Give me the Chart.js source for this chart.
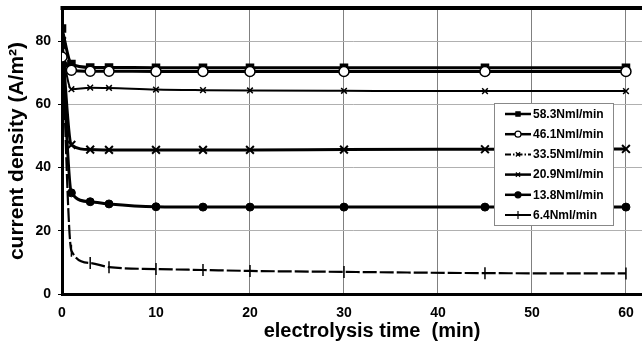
<!DOCTYPE html>
<html>
<head>
<meta charset="utf-8">
<script src="https://cdn.jsdelivr.net/npm/chart.js@4/dist/chart.umd.min.js"></script>
<style>
html,body{margin:0;padding:0;background:#fff;overflow:hidden;}
#wrap{width:642px;height:352px;position:relative;overflow:hidden;}
</style>
</head>
<body>
<div id="wrap"><canvas id="c" width="650" height="352"></canvas></div>
<script>
const times = [0, 1, 3, 5, 10, 15, 20, 30, 45, 60];
const seriesLabels = ["58.3Nml/min", "46.1Nml/min", "33.5Nml/min", "20.9Nml/min", "13.8Nml/min", "6.4Nml/min"];
const flow583 = [84, 72.8, 71.7, 71.7, 71.6, 71.6, 71.6, 71.6, 71.6, 71.6];
const flow461 = [75, 70.8, 70.5, 70.5, 70.4, 70.4, 70.4, 70.4, 70.4, 70.4];
const flow335 = [77, 64.8, 65.3, 65.2, 64.7, 64.5, 64.4, 64.3, 64.2, 64.2];
const flow209 = [80, 47.2, 45.7, 45.6, 45.6, 45.6, 45.6, 45.7, 45.8, 45.9];
const flow138 = [79, 32, 29.2, 28.5, 27.6, 27.5, 27.5, 27.5, 27.5, 27.5];
const flow64  = [81, 13.7, 9.8, 8.5, 7.9, 7.6, 7.3, 7.0, 6.6, 6.5];
const xTicks = [0, 10, 20, 30, 40, 50, 60];
const yTicks = [0, 20, 40, 60, 80];
const xTitle = 'electrolysis time  (min)';
const yTitle = 'current density (A/m²)';

const toXY = arr => arr.map((v, i) => ({x: times[i], y: v}));

const FONT = '"Liberation Sans", Arial, sans-serif';

const styles = [
  {pointStyle:'rect', radius:5, bg:'#000', bw:1.5, lw:3, dash:[], rot:0, legDash:[]},
  {pointStyle:'circle', radius:5, bg:'#fff', bw:1.5, lw:3, dash:[], rot:0, legDash:[]},
  {pointStyle:'crossRot', radius:4, bg:'#fff', bw:1.5, lw:2, dash:[], rot:0, legDash:[6,2,1.5,2]},
  {pointStyle:'crossRot', radius:5.5, bg:'#000', bw:2, lw:3, dash:[], rot:0, legDash:[]},
  {pointStyle:'circle', radius:4, bg:'#000', bw:1, lw:3, dash:[], rot:0, legDash:[]},
  {pointStyle:'line', radius:6, bg:'#000', bw:1.5, lw:2.2, dash:[14,3], rot:90, legDash:[]}
];
const values = [flow583, flow461, flow335, flow209, flow138, flow64];
const drawOrder = [2, 1, 3, 4, 5, 6];

const datasets = values.map((arr, i) => ({
  label: seriesLabels[i],
  data: toXY(arr),
  borderColor: '#000',
  backgroundColor: styles[i].bg,
  borderWidth: styles[i].lw,
  borderDash: styles[i].dash,
  pointStyle: styles[i].pointStyle,
  pointRadius: styles[i].radius,
  pointRotation: styles[i].rot,
  pointBorderWidth: styles[i].bw,
  pointBorderColor: '#000',
  pointBackgroundColor: styles[i].bg,
  cubicInterpolationMode: 'monotone',
  order: drawOrder[i],
  fill: false
}));

const frameAndLegend = {
  id: 'frameAndLegend',
  afterDraw(chart) {
    const ctx = chart.ctx;
    const ca = chart.chartArea;
    ctx.save();
    ctx.strokeStyle = '#000';
    ctx.lineWidth = 4;
    ctx.beginPath();
    ctx.moveTo(ca.left - 1.5, ca.top);
    ctx.lineTo(ca.right, ca.top);
    ctx.stroke();

    // x axis title (centred under the full, wider original plot)
    ctx.fillStyle = '#000';
    ctx.font = 'bold 20px ' + FONT;
    ctx.textAlign = 'center';
    ctx.textBaseline = 'middle';
    ctx.fillText(xTitle, 372, 331);
    ctx.textAlign = 'left';

    const bx = 494, by = 103, bw = 119, bh = 122;
    ctx.fillStyle = '#fff';
    ctx.fillRect(bx, by, bw, bh);
    ctx.strokeStyle = '#888';
    ctx.lineWidth = 1;
    ctx.strokeRect(bx + 0.5, by + 0.5, bw, bh);
    ctx.font = 'bold 12px ' + FONT;
    ctx.textBaseline = 'middle';
    chart.data.datasets.forEach((ds, i) => {
      const y = 114 + i * 20.2;
      ctx.strokeStyle = '#000';
      ctx.setLineDash(styles[i].legDash);
      ctx.lineWidth = (i === 2 || i === 5) ? 2 : 2.5;
      ctx.beginPath();
      ctx.moveTo(505, y);
      ctx.lineTo(531, y);
      ctx.stroke();
      ctx.setLineDash([]);
      ctx.fillStyle = ds.pointBackgroundColor;
      ctx.strokeStyle = '#000';
      ctx.lineWidth = 1.2;
      Chart.helpers.drawPoint(ctx, {
        pointStyle: ds.pointStyle,
        rotation: ds.pointRotation,
        radius: i === 5 ? 4 : 3,
        borderWidth: 1.2
      }, 518, y);
      ctx.fillStyle = '#000';
      ctx.fillText(ds.label, 533, y + 0.5);
    });
    ctx.restore();
  }
};

new Chart(document.getElementById('c'), {
  type: 'line',
  data: { datasets },
  options: {
    responsive: false,
    animation: false,
    devicePixelRatio: 1,
    layout: { padding: { top: 8, right: 0, left: 0, bottom: 0 } },
    plugins: { legend: { display: false }, tooltip: { enabled: false } },
    scales: {
      x: {
        type: 'linear',
        min: 0,
        max: 61.76,
        afterBuildTicks: s => { s.ticks = xTicks.map(v => ({value: v})); },
        afterFit: s => { s.height = 58; s.paddingRight = 0; s.paddingLeft = 0; },
        border: { display: true, color: '#000', width: 3 },
        grid: { color: '#808080', lineWidth: 1, drawTicks: false },
        ticks: {
          color: '#000',
          padding: 11,
          maxRotation: 0,
          font: { family: FONT, size: 14, weight: 'bold' }
        },
        title: { display: false }
      },
      y: {
        type: 'linear',
        min: 0,
        max: 90.5,
        afterBuildTicks: s => { s.ticks = yTicks.map(v => ({value: v})); },
        afterFit: s => { s.width = 62; s.paddingTop = 0; s.paddingBottom = 0; },
        border: { display: true, color: '#000', width: 3 },
        grid: { color: '#b0b0b0', lineWidth: 1, tickLength: 4, tickColor: '#000' },
        ticks: {
          color: '#000',
          padding: 7,
          font: { family: FONT, size: 14, weight: 'bold' }
        },
        title: {
          display: true,
          text: yTitle,
          color: '#000',
          padding: { top: 5, bottom: 0 },
          font: { family: FONT, size: 21, weight: 'bold' }
        }
      }
    }
  },
  plugins: [frameAndLegend]
});
</script>
</body>
</html>
